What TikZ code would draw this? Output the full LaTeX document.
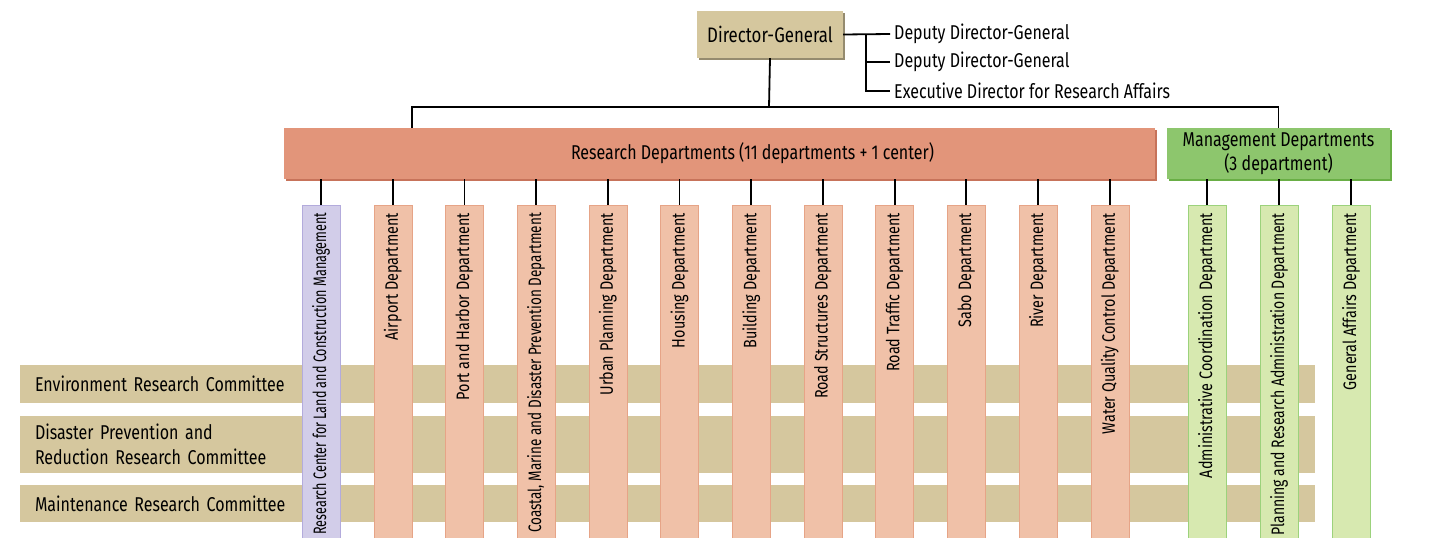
\documentclass[tikz,border=0pt]{standalone}
\usepackage{fontspec}
\setmainfont{Fira Sans}[FakeStretch=0.8]
\newfontfamily\narrowfont{Fira Sans}[FakeStretch=0.70]
\newfontfamily\condfont{Fira Sans}[FakeStretch=0.75]
\newfontfamily\semifont{Fira Sans}[FakeStretch=0.78]
\usetikzlibrary{shadows}

\definecolor{tan}{HTML}{D5C79E}
\definecolor{resbar}{HTML}{E2957A}
\definecolor{resshadow}{HTML}{C7735A}
\definecolor{rescol}{HTML}{F0C1A8}
\definecolor{rescolline}{HTML}{E6A487}
\definecolor{centercol}{HTML}{D2CDE9}
\definecolor{centerline}{HTML}{B3ABDC}
\definecolor{mgmbar}{HTML}{8DC66D}
\definecolor{mgmshadow}{HTML}{69AE45}
\definecolor{mgmcol}{HTML}{D7E9B0}
\definecolor{mgmline}{HTML}{9CD27C}

\tikzset{
	txt/.style={font=\fontsize{20}{24.5}\selectfont},
	bar/.style={txt, minimum height=51pt, inner sep=0pt, align=center},
	band/.style={txt, fill=tan, minimum width=1295pt, text width=1265pt, align=left},
	col/.style={minimum width=38pt, minimum height=333pt, inner sep=0pt},
	coltext/.style={font=\fontsize{18}{20}\selectfont, rotate=90, anchor=east, inner sep=0pt},
	link/.style={line width=1.8pt},
}

\begin{document}
\begin{tikzpicture}[x=1pt,y=-1pt]
\useasboundingbox (0,0) rectangle (1430,538);

% top
\node[font=\fontsize{21}{24}\selectfont, fill=tan, minimum width=146pt, minimum height=47pt,
	drop shadow={shadow xshift=1.5pt, shadow yshift=-1.5pt, fill=tan!70!black, opacity=1}]
	(dg) at (770,34.5) {Director-General};
\node[txt, anchor=west, inner sep=4pt] (dep1) at (890,34) {Deputy Director-General};
\node[txt, anchor=west, inner sep=4pt] (dep2) at (890,62) {Deputy Director-General};
\node[txt, anchor=west, inner sep=4pt] (exec) at (890,91) {Executive Director for Research Affairs};
\coordinate (br) at (866,34);
\draw[link] (dg.east) -- (dep1.west);
\draw[link] (br) |- (exec.west);
\draw[link] (br |- dep2.west) -- (dep2.west);

% departments
\node[bar, fill=resbar, minimum width=871pt,
	drop shadow={shadow xshift=1.5pt, shadow yshift=-1.5pt, fill=resshadow, opacity=1}]
	(rd) at (719.5,153.5) {};
\node[txt] (rdlabel) at ([xshift=33pt]rd.center) {Research Departments (11 departments + 1 center)};
\node[bar, fill=mgmbar, minimum width=223pt,
	drop shadow={shadow xshift=1.5pt, shadow yshift=-1.5pt, fill=mgmshadow, opacity=1}]
	(md) at (1278.5,153.5) {Management Departments\\(3 department)};
\coordinate (bus) at (769,107);
\draw[link] (dg.south) -- (bus);
\draw[link] (rd.north -| 412,0) |- (bus) -| (md.north);

% committees
\node[band, minimum height=38pt] (env) at (667.5,384) {Environment Research Committee};
\node[band, minimum height=57pt] (dis) at (667.5,444.5) {Disaster Prevention and\\Reduction Research Committee};
\node[band, minimum height=37pt] (mnt) at (667.5,503.5) {Maintenance Research Committee};

% research columns
\node[col, fill=centercol, draw=centerline] (rc0) at (321,371.5) {};
\node[coltext] (rt0) at ([yshift=-8pt]rc0.north)
	{\narrowfont Research Center for Land and Construction Management};
\foreach \i/\name in {1/Airport Department, 2/Port and Harbor Department,
	3/{\condfont Coastal, Marine and Disaster Prevention Department},
	4/Urban Planning Department, 5/Housing Department, 6/Building Department,
	7/Road Structures Department, 8/Road Traffic Department, 9/Sabo Department,
	10/River Department, 11/Water Quality Control Department} {
	\node[col, fill=rescol, draw=rescolline] (rc\i) at (321+71.7*\i,371.5) {};
	\node[coltext] (rt\i) at ([yshift=-8pt]rc\i.north) {\name};
}
\foreach \i in {0,...,11} {
	\draw[link] (rc\i.north |- rd.south) -- (rc\i.north);
}

% management columns
\foreach \i/\name in {1/Administrative Coordination Department,
	2/{\semifont Planning and Research Administration Department},
	3/General Affairs Department} {
	\node[col, fill=mgmcol, draw=mgmline] (mc\i) at (1135+72*\i,371.5) {};
	\node[coltext] (mt\i) at ([yshift=-8pt]mc\i.north) {\name};
	\draw[link] (mc\i.north |- md.south) -- (mc\i.north);
}

\end{tikzpicture}
\end{document}
